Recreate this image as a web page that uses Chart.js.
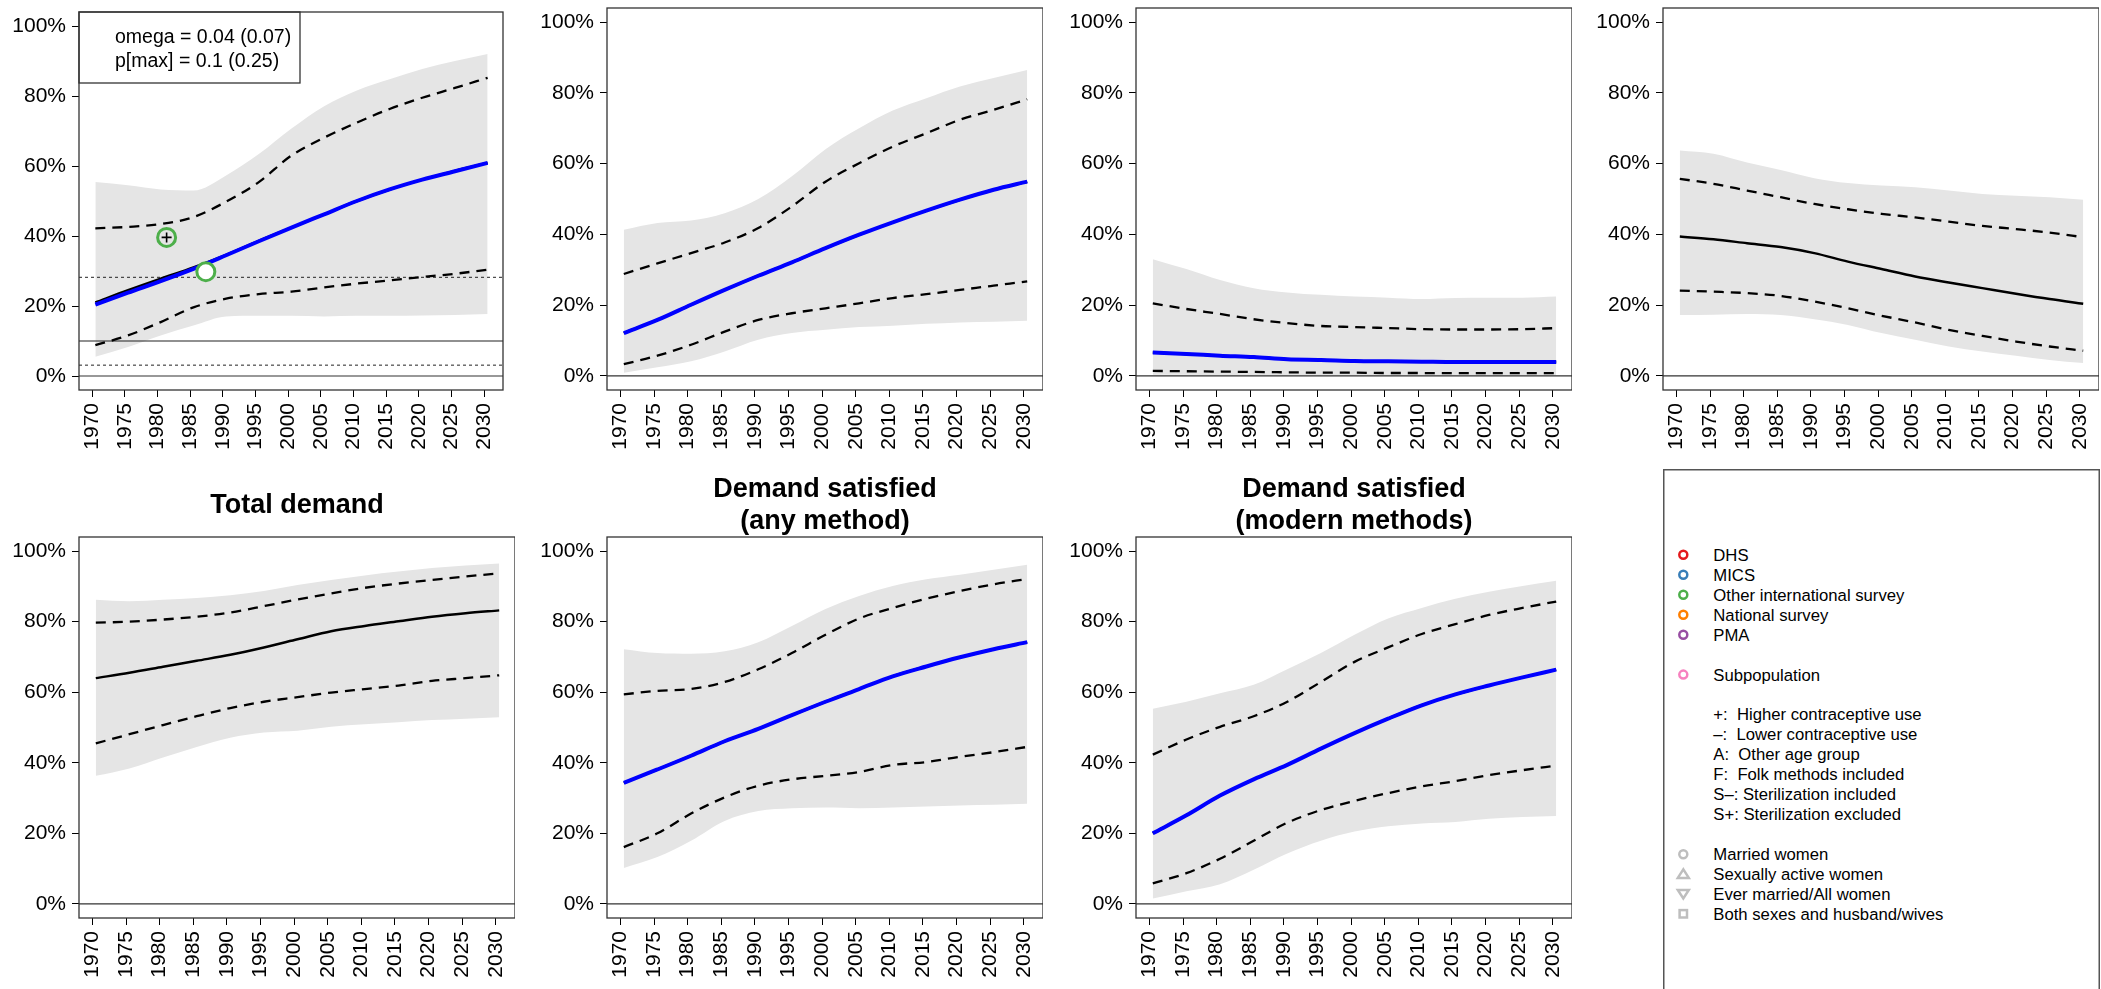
<!DOCTYPE html>
<html>
<head>
<meta charset="utf-8">
<script src="https://cdn.jsdelivr.net/npm/chart.js@4.4.1/dist/chart.umd.min.js"></script>
<style>
  html, body { margin: 0; padding: 0; background: #fff; width: 2101px; height: 989px; overflow: hidden; }
  canvas { position: absolute; }
  #legend { position: absolute; left: 1663px; top: 469px; }
</style>
</head>
<body>
<svg id="legend" width="438" height="520" xmlns="http://www.w3.org/2000/svg"></svg>
<script>
// years of the estimates (mid-year) and axis ticks
var years = [1970.5, 1975.5, 1980.5, 1985.5, 1990.5, 1995.5, 2000.5, 2005.5, 2010.5, 2015.5, 2020.5, 2025.5, 2030.5];
var tickYears = [1970, 1975, 1980, 1985, 1990, 1995, 2000, 2005, 2010, 2015, 2020, 2025, 2030];
var tickPercents = [0, 20, 40, 60, 80, 100];

// panel 1 (top left)
var p1Upper = [55.4, 54.5, 53.3, 53.0, 57.3, 63.4, 70.7, 77.1, 81.6, 84.8, 87.7, 90.0, 92.0];
var p1UpperDash = [42.2, 42.6, 43.4, 45.4, 49.8, 55.4, 63.0, 68.1, 72.4, 76.3, 79.5, 82.3, 85.2];
var p1Median = [21.0, 24.5, 27.8, 31.0, 34.6, 38.6, 42.4, 46.2, 50.0, 53.3, 56.1, 58.6, 60.9];
var p1MedianBlue = [20.4, 23.8, 27.1, 30.6, 34.5, 38.5, 42.4, 46.2, 50.0, 53.3, 56.1, 58.5, 60.9];
var p1LowerDash = [8.8, 11.6, 15.4, 19.6, 22.1, 23.4, 24.1, 25.3, 26.4, 27.3, 28.3, 29.2, 30.4];
var p1Lower = [5.5, 8.3, 11.6, 14.4, 17.0, 17.2, 17.2, 17.0, 17.2, 17.2, 17.3, 17.4, 17.7];
var p1RefDotted = [28.2, 3.1];
var p1RefSolid = [10];
var surveyYears = [1981.4, 1987.4];
var surveyValues = [39.6, 29.8];
var higherUseYears = [1981.4];
var higherUseValues = [39.6];

// panel 2
var p2Upper = [41.3, 43.2, 43.9, 46.0, 50.0, 56.4, 64.1, 70.0, 75.0, 78.5, 81.8, 84.2, 86.5];
var p2UpperDash = [28.8, 31.8, 34.7, 37.7, 41.8, 47.9, 54.9, 60.1, 64.8, 68.6, 72.4, 75.2, 78.2];
var p2Median = [12.1, 15.8, 20.1, 24.3, 28.3, 32.1, 36.1, 39.9, 43.4, 46.7, 49.8, 52.6, 54.9];
var p2LowerDash = [3.3, 5.7, 8.8, 12.5, 15.8, 17.7, 19.1, 20.5, 22.0, 23.1, 24.3, 25.5, 26.7];
var p2Lower = [0.9, 2.4, 4.1, 6.9, 10.2, 12.1, 13.0, 13.8, 14.2, 14.7, 15.1, 15.3, 15.6];

// panel 3
var p3Upper = [33.0, 30.2, 27.1, 24.8, 23.6, 22.9, 22.4, 22.1, 21.7, 22.0, 22.1, 22.1, 22.4];
var p3UpperDash = [20.5, 18.9, 17.5, 16.0, 14.9, 14.1, 13.8, 13.5, 13.2, 13.1, 13.1, 13.2, 13.5];
var p3Median = [6.6, 6.2, 5.7, 5.3, 4.7, 4.5, 4.2, 4.1, 4.0, 3.9, 3.9, 3.9, 3.9];
var p3LowerDash = [1.4, 1.3, 1.2, 1.1, 1.0, 0.9, 0.9, 0.8, 0.8, 0.75, 0.75, 0.75, 0.75];
var p3Lower = [0.3, 0.3, 0.2, 0.2, 0.2, 0.2, 0.1, 0.1, 0.1, 0.1, 0.1, 0.1, 0.1];

// panel 4
var p4Upper = [63.7, 62.8, 60.3, 58.2, 55.9, 54.5, 53.8, 53.3, 52.4, 51.4, 50.9, 50.5, 49.8];
var p4UpperDash = [55.7, 54.3, 52.4, 50.5, 48.6, 47.1, 45.8, 44.8, 43.6, 42.4, 41.5, 40.5, 39.2];
var p4Median = [39.4, 38.6, 37.5, 36.4, 34.7, 32.3, 30.2, 28.1, 26.4, 24.8, 23.2, 21.7, 20.4];
var p4LowerDash = [24.1, 23.8, 23.4, 22.6, 21.0, 19.1, 17.0, 15.1, 13.0, 11.3, 9.7, 8.3, 7.1];
var p4Lower = [17.2, 17.3, 17.5, 17.2, 16.0, 14.4, 12.1, 10.2, 8.3, 6.9, 5.7, 4.5, 3.6];

// Total demand
var p5Upper = [86.2, 85.8, 86.2, 86.7, 87.5, 88.7, 90.4, 91.8, 93.1, 94.2, 95.2, 95.9, 96.5];
var p5UpperDash = [79.7, 80.0, 80.6, 81.4, 82.6, 84.4, 86.3, 88.0, 89.6, 90.8, 91.8, 92.8, 93.7];
var p5Median = [64.0, 65.5, 67.2, 68.9, 70.6, 72.7, 75.0, 77.3, 78.8, 80.1, 81.4, 82.4, 83.2];
var p5LowerDash = [45.5, 48.1, 50.7, 53.2, 55.5, 57.3, 58.6, 59.9, 60.9, 61.9, 63.2, 64.0, 64.8];
var p5Lower = [36.3, 38.4, 41.5, 44.5, 47.1, 48.6, 49.1, 50.2, 50.9, 51.5, 52.1, 52.5, 52.9];

// Demand satisfied (any method)
var p6Upper = [72.2, 71.1, 70.9, 71.6, 74.2, 78.8, 83.6, 87.3, 90.1, 92.0, 93.3, 94.7, 96.1];
var p6UpperDash = [59.4, 60.4, 60.9, 62.9, 66.5, 71.1, 76.3, 80.9, 83.9, 86.5, 88.7, 90.6, 92.1];
var p6Median = [34.3, 38.1, 42.0, 46.1, 49.6, 53.5, 57.3, 60.9, 64.5, 67.3, 69.9, 72.2, 74.2];
var p6LowerDash = [16.1, 20.0, 25.6, 30.2, 33.5, 35.3, 36.3, 37.4, 39.4, 40.2, 41.7, 43.0, 44.5];
var p6Lower = [10.2, 13.3, 17.9, 23.5, 26.3, 27.1, 27.3, 27.1, 27.3, 27.6, 27.9, 28.1, 28.4];

// Demand satisfied (modern methods)
var p7Upper = [55.3, 57.3, 59.7, 62.1, 66.5, 71.1, 76.3, 80.9, 83.9, 86.5, 88.5, 90.1, 91.6];
var p7UpperDash = [42.3, 46.6, 50.2, 53.2, 57.3, 62.9, 68.6, 72.7, 76.5, 79.3, 81.9, 83.9, 85.7];
var p7Median = [20.0, 25.1, 30.7, 35.3, 39.4, 44.0, 48.4, 52.5, 56.3, 59.4, 61.9, 64.2, 66.4];
var p7LowerDash = [5.8, 8.7, 12.8, 17.9, 23.0, 26.6, 29.2, 31.4, 33.3, 34.8, 36.5, 37.9, 39.2];
var p7Lower = [1.5, 3.6, 5.6, 9.7, 14.3, 17.9, 20.5, 22.0, 22.8, 23.2, 24.1, 24.6, 24.9];

// legend texts
var sourceNames = ["DHS", "MICS", "Other international survey", "National survey", "PMA"];
var sourceColors = ["#E41A1C", "#377EB8", "#4DAF4A", "#FF7F00", "#984EA3"];
var noteTexts = ["+:  Higher contraceptive use", "\u2013:  Lower contraceptive use", "A:  Other age group",
                 "F:  Folk methods included", "S\u2013: Sterilization included", "S+: Sterilization excluded"];
var groupNames = ["Married women", "Sexually active women", "Ever married/All women", "Both sexes and husband/wives"];

var xLimits = [1968.0, 2032.85];
var yLimits = [-4, 104];
var FONT = '"Liberation Sans", Arial, Helvetica, sans-serif';
var GREEN = "#4DAF4A";

function pts(xs, ys) {
    return xs.map(function (x, i) { return { x: x, y: ys[i] }; });
}
function flat(v) {
    return [{ x: xLimits[0], y: v }, { x: xLimits[1], y: v }];
}
function curve(data, color, width, dash, order) {
    return {
        data: data, borderColor: color, borderWidth: width, borderDash: dash || [],
        pointRadius: 0, fill: false, cubicInterpolationMode: "monotone", order: order
    };
}

//box, titles and the omega note
var panelDeco = {
    id: "panelDeco",
    afterDraw: function (chart, args, opts) {
        var ctx = chart.ctx, a = chart.chartArea;
        ctx.save();
        if (opts.note) {
            ctx.fillStyle = "#fff";
            ctx.fillRect(a.left, a.top, 221, 71);
            ctx.strokeStyle = "#333";
            ctx.lineWidth = 1.3;
            ctx.strokeRect(a.left, a.top, 221, 71);
            ctx.fillStyle = "#000";
            ctx.font = "19.5px " + FONT;
            ctx.textBaseline = "alphabetic";
            ctx.fillText(opts.note[0], a.left + 36, a.top + 31);
            ctx.fillText(opts.note[1], a.left + 36, a.top + 55);
        }
        ctx.strokeStyle = "#333";
        ctx.lineWidth = 1.3;
        ctx.strokeRect(a.left, a.top, a.right - a.left, a.bottom - a.top);
        if (opts.title) {
            ctx.fillStyle = "#000";
            ctx.font = "bold 27px " + FONT;
            ctx.textAlign = "center";
            ctx.textBaseline = "alphabetic";
            var cx = (a.left + a.right) / 2;
            if (opts.title.length == 2) {
                ctx.fillText(opts.title[0], cx, a.top - 40);
                ctx.fillText(opts.title[1], cx, a.top - 8);
            } else {
                ctx.fillText(opts.title[0], cx, a.top - 24);
            }
        }
        ctx.restore();
    }
};

function makePanel(p) {
    var canvas = document.createElement("canvas");
    canvas.width = 515;
    canvas.height = p.height;
    canvas.style.left = p.left + "px";
    canvas.style.top = p.top + "px";
    document.body.appendChild(canvas);

    var sets = [];
    sets.push({ data: pts(years, p.upper), borderWidth: 0, pointRadius: 0, backgroundColor: "#E5E5E5",
                fill: "+1", cubicInterpolationMode: "monotone", order: 30 });
    sets.push({ data: pts(years, p.lower), borderWidth: 0, pointRadius: 0, fill: false,
                cubicInterpolationMode: "monotone", order: 30 });
    sets.push(curve(flat(0), "#333", 1.2, null, 20));
    (p.refDotted || []).forEach(function (v) { sets.push(curve(flat(v), "#222", 1, [3, 3], 20)); });
    (p.refSolid || []).forEach(function (v) { sets.push(curve(flat(v), "#222", 1.2, null, 20)); });
    sets.push(curve(pts(years, p.upperDash), "#000", 2.3, [10, 7], 10));
    sets.push(curve(pts(years, p.lowerDash), "#000", 2.3, [10, 7], 10));
    sets.push(curve(pts(years, p.median), "#000", 2.5, null, 8));
    if (p.blue) sets.push(curve(pts(years, p.blue), "#0000FF", 4, null, 6));
    if (p.survey) {
        sets.push({ data: pts(surveyYears, surveyValues), showLine: false, pointStyle: "circle",
                    pointRadius: 9, pointBorderWidth: 3, pointBorderColor: GREEN,
                    pointBackgroundColor: ["rgba(0,0,0,0)", "#fff"], order: 2 });
        sets.push({ data: pts(higherUseYears, higherUseValues), showLine: false, pointStyle: "cross",
                    pointRadius: 5, pointBorderWidth: 1.6, pointBorderColor: "#000", order: 1 });
    }

    var tickFont = { family: FONT, size: 21 };
    new Chart(canvas, {
        type: "line",
        data: { datasets: sets },
        options: {
            responsive: false,
            animation: false,
            events: [],
            layout: { padding: { top: p.padTop, left: 0, right: 0, bottom: 0 } },
            plugins: {
                legend: { display: false },
                tooltip: { enabled: false },
                panelDeco: { title: p.title, note: p.note }
            },
            scales: {
                x: {
                    type: "linear", min: xLimits[0], max: xLimits[1],
                    afterBuildTicks: function (s) { s.ticks = tickYears.map(function (v) { return { value: v }; }); },
                    afterFit: function (s) { s.height = p.height - p.bottom; s.paddingLeft = 0; s.paddingRight = 0; },
                    ticks: { autoSkip: false, minRotation: 90, maxRotation: 90, padding: 6, color: "#000",
                             font: tickFont, callback: function (v) { return String(v); } },
                    grid: { drawOnChartArea: false, drawTicks: true, tickLength: 7, color: "#000", lineWidth: 1 },
                    border: { display: false }
                },
                y: {
                    type: "linear", min: yLimits[0], max: yLimits[1],
                    afterBuildTicks: function (s) { s.ticks = tickPercents.map(function (v) { return { value: v }; }); },
                    afterFit: function (s) { s.width = 79; s.paddingTop = 0; s.paddingBottom = 0; },
                    ticks: { padding: 6, color: "#000", font: tickFont, callback: function (v) { return v + "%"; } },
                    grid: { drawOnChartArea: false, drawTicks: true, tickLength: 7, color: "#000", lineWidth: 1 },
                    border: { display: false }
                }
            }
        },
        plugins: [panelDeco]
    });
}

var topRow = { top: 0, height: 470, padTop: 8, bottom: 390 };
var bottomRow = { top: 440, height: 549, padTop: 97, bottom: 478 };

var panels = [
    { row: topRow, left: 0, upper: p1Upper, upperDash: p1UpperDash, median: p1Median, blue: p1MedianBlue,
      lowerDash: p1LowerDash, lower: p1Lower, refDotted: p1RefDotted, refSolid: p1RefSolid, survey: true,
      note: ["omega = 0.04 (0.07)", "p[max] = 0.1 (0.25)"] },
    { row: topRow, left: 528, upper: p2Upper, upperDash: p2UpperDash, median: p2Median, blue: p2Median,
      lowerDash: p2LowerDash, lower: p2Lower },
    { row: topRow, left: 1057, upper: p3Upper, upperDash: p3UpperDash, median: p3Median, blue: p3Median,
      lowerDash: p3LowerDash, lower: p3Lower },
    { row: topRow, left: 1584, upper: p4Upper, upperDash: p4UpperDash, median: p4Median,
      lowerDash: p4LowerDash, lower: p4Lower },
    { row: bottomRow, left: 0, upper: p5Upper, upperDash: p5UpperDash, median: p5Median,
      lowerDash: p5LowerDash, lower: p5Lower, title: ["Total demand"] },
    { row: bottomRow, left: 528, upper: p6Upper, upperDash: p6UpperDash, median: p6Median, blue: p6Median,
      lowerDash: p6LowerDash, lower: p6Lower, title: ["Demand satisfied", "(any method)"] },
    { row: bottomRow, left: 1057, upper: p7Upper, upperDash: p7UpperDash, median: p7Median, blue: p7Median,
      lowerDash: p7LowerDash, lower: p7Lower, title: ["Demand satisfied", "(modern methods)"] }
];

panels.forEach(function (p) {
    p.top = p.row.top;
    p.height = p.row.height;
    p.padTop = p.row.padTop;
    p.bottom = p.row.bottom;
    makePanel(p);
});

//legend panel on the bottom right
(function () {
    var svg = document.getElementById("legend");
    var html = '<rect x="0.75" y="0.75" width="435.5" height="600" fill="none" stroke="#555" stroke-width="1.5"/>';
    function text(str, y) {
        return '<text x="50.3" y="' + (y + 6) + '" font-family=\'' + FONT + '\' font-size="16.7" fill="#000" xml:space="preserve">' + str + '</text>';
    }
    var step = 20;
    sourceNames.forEach(function (n, i) {
        var y = 85.8 + i * step;
        html += '<circle cx="20.3" cy="' + y + '" r="4" fill="none" stroke="' + sourceColors[i] + '" stroke-width="2.5"/>';
        html += text(n, y);
    });
    html += '<circle cx="20.3" cy="205.6" r="4" fill="none" stroke="#F781BF" stroke-width="2.5"/>';
    html += text("Subpopulation", 205.6);
    noteTexts.forEach(function (n, i) { html += text(n, 245.1 + i * step); });
    var g = "#BEBEBE";
    var gy = [385.2, 404.9, 425.0, 444.8];
    html += '<circle cx="20.3" cy="' + gy[0] + '" r="4" fill="none" stroke="' + g + '" stroke-width="2.5"/>';
    html += '<polygon points="20.3,' + (gy[1] - 4.5) + ' 14.8,' + (gy[1] + 4) + ' 25.8,' + (gy[1] + 4) + '" fill="none" stroke="' + g + '" stroke-width="2.5"/>';
    html += '<polygon points="14.8,' + (gy[2] - 4) + ' 25.8,' + (gy[2] - 4) + ' 20.3,' + (gy[2] + 4.5) + '" fill="none" stroke="' + g + '" stroke-width="2.5"/>';
    html += '<rect x="16.6" y="' + (gy[3] - 3.7) + '" width="7.4" height="7.4" fill="none" stroke="' + g + '" stroke-width="2.5"/>';
    groupNames.forEach(function (n, i) { html += text(n, gy[i]); });
    svg.innerHTML = html;
})();
</script>
</body>
</html>
